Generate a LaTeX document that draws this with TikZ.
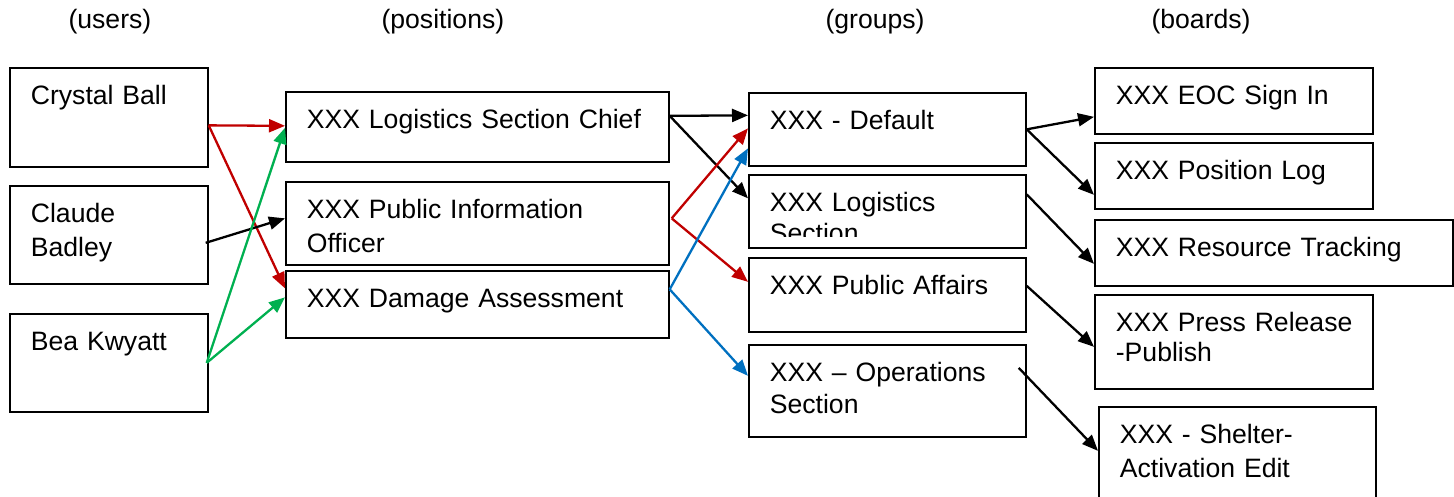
\documentclass[tikz,border=0pt]{standalone}
\usepackage{fontspec}
\setmainfont{Liberation Sans}
\usetikzlibrary{arrows.meta}

\definecolor{linkred}{HTML}{C00000}
\definecolor{linkgreen}{HTML}{00B050}
\definecolor{linkblue}{HTML}{0070C0}

\tikzset{
  box/.style={draw, line width=1.7pt, anchor=north west, align=left,
    inner xsep=21pt, inner ysep=0pt, text height=37pt,
    font=\fontsize{26.6}{34}\selectfont},
  userbox/.style={box, text width=156pt},
  posbox/.style={box, text width=341pt},
  grpbox/.style={box, text width=235pt},
  brdbox/.style={box, text width=236pt},
  head/.style={anchor=base west, font=\fontsize{26.6}{34}\selectfont},
  link/.style={line width=2.3pt, -{Triangle[length=16pt,width=13pt]}}
}

\begin{document}
\begin{tikzpicture}[x=1pt, y=-1pt]
  \useasboundingbox (0,0) rectangle (1454,497);

  % column titles
  \node[head] (hu) at (65,29) {(users)};
  \node[head] (hp) at (378,29) {(positions)};
  \node[head] (hg) at (822,29) {(groups)};
  \node[head] (hb) at (1148,29) {(boards)};

  % users
  \node[userbox, text depth=62pt] (cb) at (9,67) {Crystal Ball};
  \node[userbox, text depth=61pt] (cl) at (9,185) {Claude\\Badley};
  \node[userbox, text depth=61pt] (bk) at (9,313) {Bea Kwyatt};

  % positions
  \node[posbox, text depth=33pt] (lsc) at (285,91) {XXX Logistics Section Chief};
  \node[posbox, text depth=46pt] (pio) at (285,181) {XXX Public Information\\Officer};
  \node[posbox, text depth=30pt] (da) at (285,270) {XXX Damage Assessment};

  % groups
  \node[grpbox, text depth=36pt] (def) at (748,92) {XXX - Default};
  \node[grpbox, text depth=36pt] (ls) at (748,174) {};
  \begin{scope}
    \clip (750,176) rectangle (1023,237);
    \node[grpbox, draw=none] (lsT) at (748,174) {XXX Logistics\\[-3pt]Section};
  \end{scope}
  \node[grpbox, text depth=37pt] (pa) at (748,257) {XXX Public Affairs};
  \node[grpbox, text depth=55pt] (ops) at (748,344) {XXX -- Operations\\[-2pt]Section};

  % boards
  \node[brdbox, text depth=29pt] (eoc) at (1094,67) {XXX EOC Sign In};
  \node[brdbox, text depth=29pt] (plog) at (1094,142) {XXX Position Log};
  \node[brdbox, text width=316pt, text depth=29pt] (rt) at (1094,219) {XXX Resource Tracking};
  \node[brdbox, text depth=57pt] (pr) at (1094,294) {\mbox{XXX Press Release}\\[-4pt]-Publish};
  \node[brdbox, text width=235pt, text depth=63pt] (sh) at (1098,406) {XXX - Shelter-\\Activation Edit};

  % users -> positions
  \draw[link, linkred] ([yshift=-8pt]cb.east) -- ([yshift=1pt]lsc.west);
  \draw[link, linkred] ([yshift=-8pt]cb.east) -- ([yshift=16pt]da.west);
  \draw[link] ([xshift=-3pt,yshift=-8pt]cl.east) -- ([yshift=5pt]pio.west);
  \draw[link, linkgreen] ([xshift=-2pt]bk.east) -- ([yshift=-1pt]lsc.west);
  \draw[link, linkgreen] ([xshift=-2pt]bk.east) -- ([yshift=7pt]da.west);

  % positions -> groups
  \draw[link] ([yshift=11pt]lsc.east) -- ([yshift=14pt]def.west);
  \draw[link] ([yshift=11pt]lsc.east) -- ([yshift=13pt]ls.west);
  \draw[link, linkred] ([xshift=2pt,yshift=5pt]pio.east) -- ([yshift=1pt]def.west);
  \draw[link, linkred] ([xshift=2pt,yshift=5pt]pio.east) -- ([yshift=13pt]pa.west);
  \draw[link, linkblue] ([yshift=15pt]da.east) -- ([yshift=-19pt]def.west);
  \draw[link, linkblue] ([yshift=15pt]da.east) -- ([yshift=15pt]ops.west);

  % groups -> boards
  \draw[link] (def.east) -- ([yshift=-16pt]eoc.west);
  \draw[link] (def.east) -- ([yshift=-19pt]plog.west);
  \draw[link] ([yshift=17pt]ls.east) -- ([yshift=-11pt]rt.west);
  \draw[link] ([yshift=9pt]pa.east) -- ([yshift=-5pt]pr.west);
  \draw[link] ([xshift=-8pt,yshift=23pt]ops.east) -- ([yshift=6pt]sh.west);
\end{tikzpicture}
\end{document}
